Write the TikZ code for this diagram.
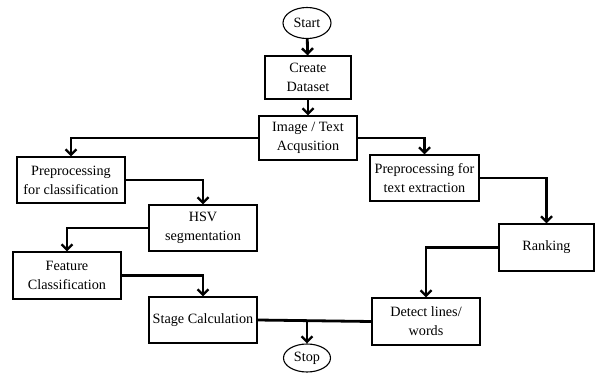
\documentclass[tikz,border=0pt]{standalone}
\usepackage{fontspec}
\setmainfont{Liberation Serif}
\usetikzlibrary{shapes.geometric,arrows.meta}
\begin{document}
\begin{tikzpicture}[x=1pt,y=-1pt,
  box/.style={draw,line width=1.1pt,rectangle,align=center,font=\fontsize{14.2}{19}\selectfont,inner sep=0pt},
  term/.style={draw,line width=1.1pt,ellipse,inner sep=0pt,font=\fontsize{14.2}{16}\selectfont},
  conn/.style={line width=2.8pt,-{Straight Barb[length=5.5pt,width=11pt,line width=2.4pt]}},
  plain/.style={line width=2.8pt}]
\useasboundingbox (0,0) rectangle (596,374);
\node[term,minimum width=48pt,minimum height=31pt] (start) at (307,23) {Start};
\node[box,minimum width=86pt,minimum height=43pt] (cd) at (308,77.5) {Create\\Dataset};
\node[box,minimum width=98pt,minimum height=44pt] (img) at (308,138) {Image / Text\\Acqusition};
\node[box,minimum width=108pt,minimum height=46pt] (pc) at (71,180) {Preprocessing\\for classification};
\node[box,minimum width=109pt,minimum height=46pt] (pt) at (424.5,178) {Preprocessing for\\text extraction};
\node[box,minimum width=108pt,minimum height=46pt] (hsv) at (203,228) {HSV\\segmentation};
\node[box,minimum width=108pt,minimum height=47pt] (fc) at (67,275.5) {Feature\\Classification};
\node[box,minimum width=108pt,minimum height=46pt] (sc) at (203,320) {Stage Calculation};
\node[box,minimum width=95pt,minimum height=47pt] (rk) at (546.5,247.5) {Ranking};
\node[box,minimum width=108pt,minimum height=47pt] (dl) at (426,321.5) {Detect lines/\\words};
\node[term,minimum width=47pt,minimum height=28pt] (stop) at (307,358) {Stop};
\coordinate (j) at (307,320.5);
\draw[conn] (start) -- (cd);
\draw[conn] (cd) -- (img);
\draw[conn] (img.west) -| (pc.north);
\draw[conn] (img.east) -| (pt.north);
\draw[conn] (pc.east) -| (hsv.north);
\draw[conn] (hsv.west) -| (fc.north);
\draw[conn] (fc.east) -| (sc.north);
\draw[conn] (pt.east) -| (rk.north);
\draw[conn] (rk.west) -| (dl.north);
\draw[plain] (sc.east) -- (dl.west);
\draw[conn] (j) -- (stop.north);
\end{tikzpicture}
\end{document}
